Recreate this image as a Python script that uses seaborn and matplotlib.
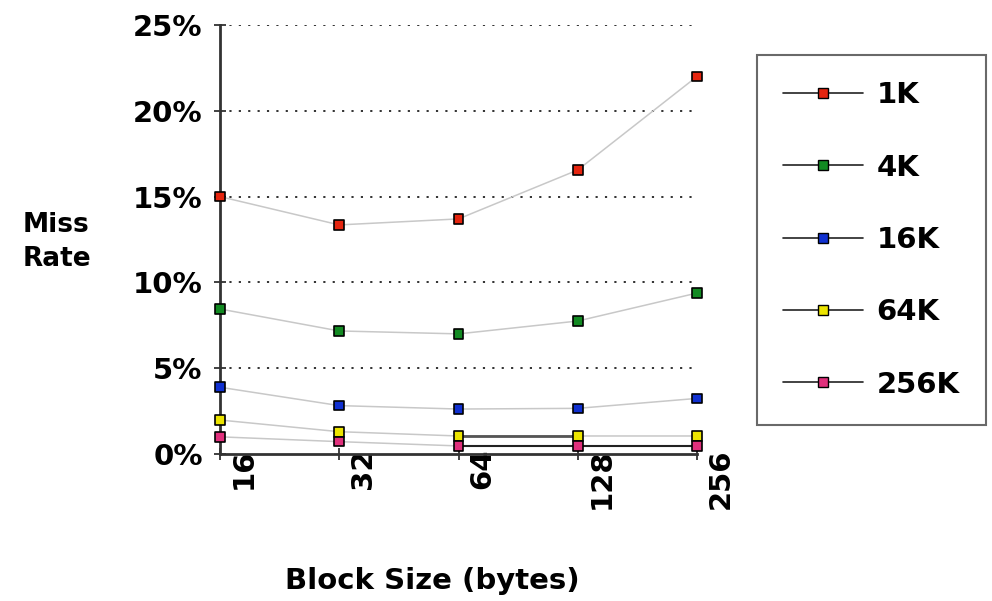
import matplotlib
matplotlib.use("Agg")
import matplotlib.pyplot as plt
import matplotlib.transforms as mtransforms
from matplotlib.lines import Line2D
import seaborn as sns
import pandas as pd

block_sizes = ["16", "32", "64", "128", "256"]
cache_sizes = ["1K", "4K", "16K", "64K", "256K"]
rate_1k = [15.0, 13.35, 13.7, 16.55, 22.0]
rate_4k = [8.45, 7.17, 7.0, 7.75, 9.38]
rate_16k = [3.89, 2.82, 2.62, 2.66, 3.24]
rate_64k = [1.98, 1.3, 1.05, 1.05, 1.05]
rate_256k = [1.0, 0.72, 0.47, 0.47, 0.47]
marker_colors = ["#e5250f", "#128a22", "#1030d0", "#ece400", "#e0307c"]
y_ticks = [0, 5, 10, 15, 20, 25]

series = [rate_1k, rate_4k, rate_16k, rate_64k, rate_256k]
rows = []
for name, vals in zip(cache_sizes, series):
    for i, (b, v) in enumerate(zip(block_sizes, vals)):
        rows.append({"cache": name, "pos": i, "block": b, "rate": v})
df = pd.DataFrame(rows)

sns.set_theme(style="white")
plt.rcParams["font.family"] = ["DejaVu Sans"]
plt.rcParams["font.weight"] = "bold"
plt.rcParams["text.color"] = "black"
plt.rcParams["xtick.color"] = "black"
plt.rcParams["ytick.color"] = "black"

FS = 21

fig = plt.figure(figsize=(9.92, 6.01), dpi=100)
ax = fig.add_axes([220/992, 1-454/601, 477/992, 429/601])

# grid lines
for t in y_ticks[1:]:
    ax.axhline(t, color="#222222", lw=1.3, ls=(0, (1.2, 4)), zorder=0)

sns.lineplot(data=df, x="pos", y="rate", hue="cache", hue_order=cache_sizes,
             palette=["#c8c8c8"]*5, legend=False, ax=ax, lw=1.1, zorder=2)
# darker overlapping segments at the bottom
sub64 = df[(df.cache == "64K") & (df.pos >= 2) & (df.pos <= 3)]
ax.plot(sub64.pos, sub64.rate, color="#555555", lw=2, zorder=2.5)
sub256 = df[(df.cache == "256K") & (df.pos >= 2)]
ax.plot(sub256.pos, sub256.rate, color="#222222", lw=1.5, zorder=2.5)

sns.scatterplot(data=df, x="pos", y="rate", hue="cache", hue_order=cache_sizes,
                palette=marker_colors, marker="s", s=48, edgecolor="black",
                linewidth=1.2, legend=False, ax=ax, zorder=5, clip_on=False)

ax.set_xlim(0, 4)
ax.set_ylim(0, 25)
ax.set_yticks(y_ticks)
ax.set_yticklabels([f"{t}%" for t in y_ticks], fontsize=FS, fontweight="bold")
ax.set_xticks(range(len(block_sizes)))
ax.set_xticklabels(block_sizes, rotation=90, ha="left", va="top",
                   fontsize=FS, fontweight="bold")
ax.tick_params(axis="both", direction="inout", length=9, width=1.3, color="#333333")
ax.tick_params(axis="x", pad=0)
ax.tick_params(axis="y", pad=8)
ax.yaxis.set_ticks_position("left")
ax.xaxis.set_ticks_position("bottom")
off = mtransforms.ScaledTranslation(0.1, 0.12, fig.dpi_scale_trans)
for lab in ax.get_xticklabels():
    lab.set_transform(lab.get_transform() + off)

for s in ["top", "right"]:
    ax.spines[s].set_visible(False)
for s in ["left", "bottom"]:
    ax.spines[s].set_color("#333333")
    ax.spines[s].set_linewidth(2)

ax.set_xlabel("")
ax.set_ylabel("")
fig.text(23/992, 1-242/601, "Miss\nRate", fontsize=19, fontweight="bold",
         ha="left", va="center", linespacing=1.45)
fig.text(432/992, 1-581/601, "Block Size (bytes)", fontsize=FS,
         fontweight="bold", ha="center", va="center")

handles = [Line2D([0], [0], color="#222222", lw=1.2, marker="s", markersize=7,
                  markerfacecolor=c, markeredgecolor="black")
           for c in marker_colors]
leg = fig.legend(handles, cache_sizes, loc="upper left",
                 bbox_to_anchor=(757/992, 1-55/601), frameon=True,
                 fancybox=False, edgecolor="#444444", handlelength=2.75,
                 handletextpad=0.45, labelspacing=1.52, borderpad=0.9,
                 borderaxespad=0, prop={"size": FS, "weight": "bold"})
leg.get_frame().set_linewidth(1.5)

fig.savefig("out.png", dpi=100)
